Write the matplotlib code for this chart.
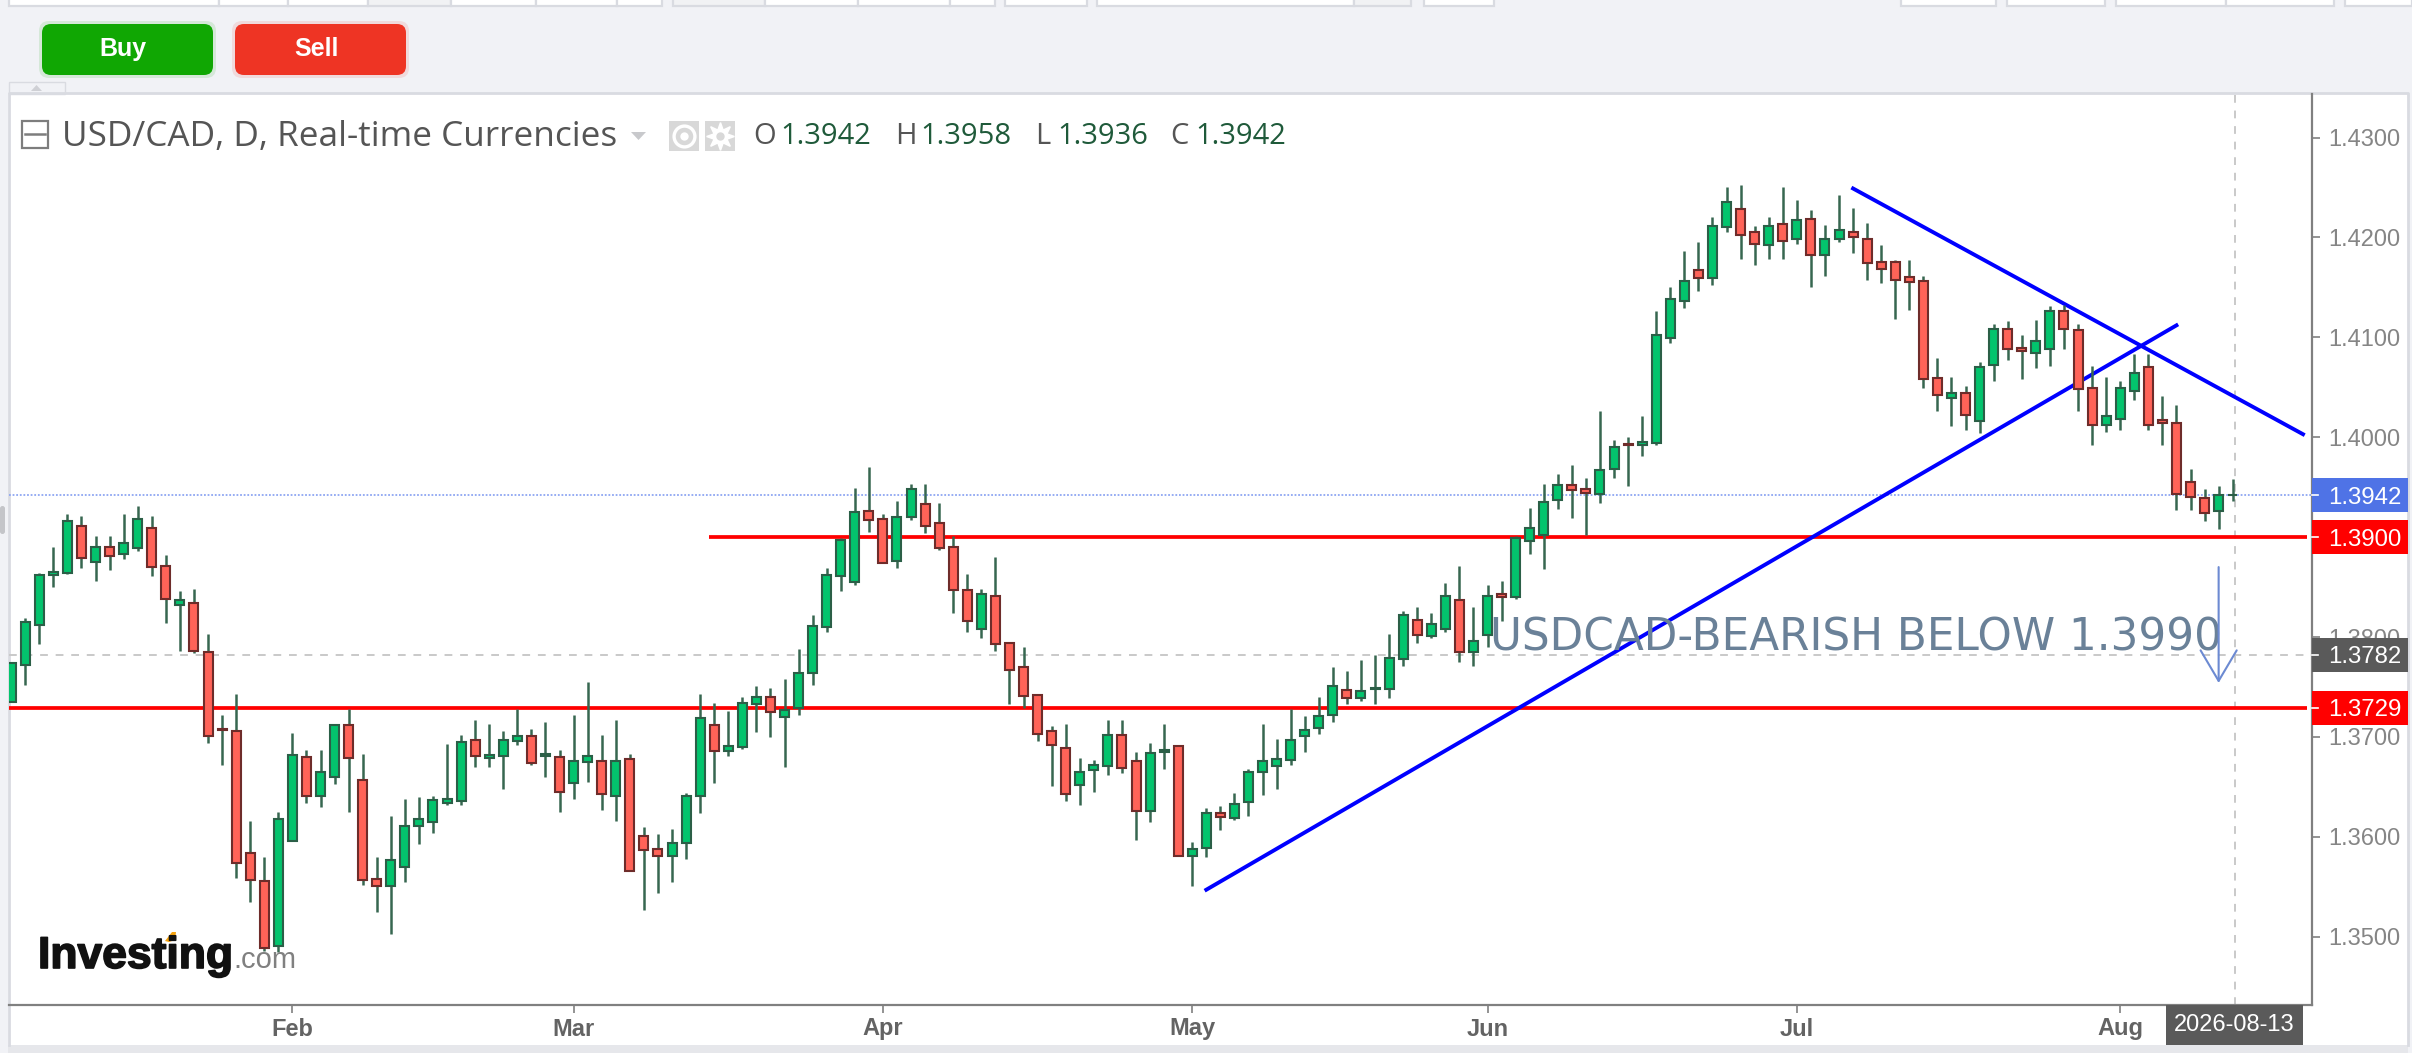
import matplotlib
matplotlib.use("Agg")
from matplotlib import pyplot as plt
from matplotlib import patheffects
from matplotlib.patches import FancyBboxPatch, Polygon, Rectangle
from matplotlib.transforms import blended_transform_factory

opens = [
    1.3735, 1.3772, 1.3812, 1.3862, 1.3864, 1.3911, 1.3875, 1.3890, 1.3883, 1.3889,
    1.3909, 1.3871, 1.3832, 1.3834, 1.3785, 1.3708, 1.3706, 1.3584, 1.3556, 1.3491,
    1.3596, 1.3680, 1.3641, 1.3660, 1.3712, 1.3657, 1.3558, 1.3551, 1.3570, 1.3611,
    1.3615, 1.3634, 1.3636, 1.3697, 1.3679, 1.3681, 1.3696, 1.3701, 1.3681, 1.3680,
    1.3654, 1.3675, 1.3676, 1.3641, 1.3678, 1.3601, 1.3588, 1.3581, 1.3594, 1.3641,
    1.3712, 1.3686, 1.3690, 1.3733, 1.3740, 1.3720, 1.3729, 1.3764, 1.3810, 1.3861,
    1.3855, 1.3926, 1.3918, 1.3876, 1.3920, 1.3933, 1.3914, 1.3890, 1.3847, 1.3808,
    1.3841, 1.3794, 1.3770, 1.3742, 1.3706, 1.3689, 1.3652, 1.3667, 1.3671, 1.3702,
    1.3676, 1.3626, 1.3685, 1.3691, 1.3581, 1.3589, 1.3624, 1.3619, 1.3635, 1.3665,
    1.3671, 1.3677, 1.3701, 1.3709, 1.3722, 1.3747, 1.3739, 1.3748, 1.3748, 1.3778,
    1.3817, 1.3801, 1.3808, 1.3837, 1.3785, 1.3802, 1.3843, 1.3840, 1.3896, 1.3902,
    1.3937, 1.3952, 1.3948, 1.3943, 1.3968, 1.3993, 1.3992, 1.3994, 1.4099, 1.4136,
    1.4167, 1.4159, 1.4210, 1.4228, 1.4205, 1.4192, 1.4213, 1.4198, 1.4218, 1.4182,
    1.4198, 1.4205, 1.4198, 1.4175, 1.4175, 1.4160, 1.4156, 1.4059, 1.4039, 1.4044,
    1.4016, 1.4072, 1.4108, 1.4089, 1.4084, 1.4088, 1.4126, 1.4107, 1.4049, 1.4012,
    1.4018, 1.4046, 1.4070, 1.4017, 1.4014, 1.3955, 1.3939, 1.3926, 1.3942,
]
highs = [
    1.3774, 1.3819, 1.3864, 1.3890, 1.3923, 1.3921, 1.3901, 1.3901, 1.3923, 1.3931,
    1.3921, 1.3882, 1.3846, 1.3848, 1.3803, 1.3722, 1.3743, 1.3616, 1.3580, 1.3625,
    1.3704, 1.3687, 1.3687, 1.3712, 1.3728, 1.3683, 1.3580, 1.3621, 1.3638, 1.3640,
    1.3641, 1.3693, 1.3702, 1.3717, 1.3713, 1.3706, 1.3728, 1.3708, 1.3715, 1.3687,
    1.3722, 1.3755, 1.3702, 1.3717, 1.3683, 1.3610, 1.3603, 1.3608, 1.3644, 1.3743,
    1.3734, 1.3726, 1.3740, 1.3751, 1.3749, 1.3758, 1.3788, 1.3822, 1.3869, 1.3899,
    1.3949, 1.3970, 1.3923, 1.3936, 1.3953, 1.3953, 1.3934, 1.3901, 1.3863, 1.3848,
    1.3880, 1.3794, 1.3790, 1.3742, 1.3711, 1.3713, 1.3679, 1.3677, 1.3717, 1.3717,
    1.3685, 1.3694, 1.3713, 1.3691, 1.3595, 1.3629, 1.3631, 1.3644, 1.3668, 1.3713,
    1.3698, 1.3728, 1.3721, 1.3740, 1.3770, 1.3766, 1.3777, 1.3782, 1.3803, 1.3826,
    1.3830, 1.3824, 1.3854, 1.3871, 1.3830, 1.3852, 1.3856, 1.3901, 1.3929, 1.3953,
    1.3963, 1.3972, 1.3959, 1.4026, 1.3997, 1.4000, 1.4021, 1.4126, 1.4150, 1.4186,
    1.4195, 1.4220, 1.4250, 1.4252, 1.4211, 1.4220, 1.4250, 1.4237, 1.4227, 1.4212,
    1.4242, 1.4229, 1.4214, 1.4192, 1.4177, 1.4177, 1.4161, 1.4079, 1.4060, 1.4051,
    1.4075, 1.4113, 1.4116, 1.4102, 1.4117, 1.4131, 1.4132, 1.4113, 1.4071, 1.4060,
    1.4056, 1.4083, 1.4083, 1.4041, 1.4032, 1.3968, 1.3948, 1.3951, 1.3958,
]
lows = [
    1.3735, 1.3752, 1.3793, 1.3850, 1.3863, 1.3869, 1.3856, 1.3867, 1.3878, 1.3886,
    1.3861, 1.3814, 1.3786, 1.3784, 1.3694, 1.3672, 1.3559, 1.3535, 1.3486, 1.3485,
    1.3596, 1.3634, 1.3630, 1.3653, 1.3625, 1.3552, 1.3525, 1.3503, 1.3555, 1.3593,
    1.3604, 1.3632, 1.3632, 1.3670, 1.3670, 1.3648, 1.3692, 1.3672, 1.3660, 1.3625,
    1.3638, 1.3655, 1.3627, 1.3616, 1.3566, 1.3527, 1.3544, 1.3555, 1.3578, 1.3624,
    1.3654, 1.3681, 1.3688, 1.3705, 1.3700, 1.3670, 1.3722, 1.3752, 1.3805, 1.3846,
    1.3852, 1.3905, 1.3874, 1.3869, 1.3917, 1.3904, 1.3887, 1.3824, 1.3805, 1.3799,
    1.3786, 1.3733, 1.3729, 1.3696, 1.3651, 1.3636, 1.3632, 1.3645, 1.3662, 1.3664,
    1.3597, 1.3615, 1.3668, 1.3581, 1.3551, 1.3580, 1.3607, 1.3617, 1.3621, 1.3642,
    1.3648, 1.3672, 1.3685, 1.3703, 1.3715, 1.3733, 1.3736, 1.3733, 1.3739, 1.3771,
    1.3794, 1.3799, 1.3805, 1.3775, 1.3771, 1.3790, 1.3816, 1.3838, 1.3883, 1.3868,
    1.3928, 1.3919, 1.3902, 1.3934, 1.3959, 1.3951, 1.3981, 1.3992, 1.4094, 1.4129,
    1.4146, 1.4152, 1.4205, 1.4178, 1.4172, 1.4178, 1.4178, 1.4193, 1.4150, 1.4161,
    1.4195, 1.4184, 1.4157, 1.4154, 1.4118, 1.4127, 1.4049, 1.4026, 1.4011, 1.4007,
    1.4004, 1.4056, 1.4077, 1.4058, 1.4069, 1.4071, 1.4088, 1.4026, 1.3992, 1.4005,
    1.4007, 1.4037, 1.4007, 1.3992, 1.3927, 1.3927, 1.3916, 1.3908, 1.3936,
]
closes = [
    1.3774, 1.3815, 1.3862, 1.3865, 1.3916, 1.3879, 1.3890, 1.3881, 1.3894, 1.3918,
    1.3870, 1.3838, 1.3837, 1.3786, 1.3701, 1.3707, 1.3574, 1.3557, 1.3489, 1.3618,
    1.3682, 1.3641, 1.3665, 1.3712, 1.3679, 1.3557, 1.3551, 1.3577, 1.3611, 1.3618,
    1.3637, 1.3638, 1.3695, 1.3681, 1.3682, 1.3697, 1.3701, 1.3674, 1.3683, 1.3645,
    1.3676, 1.3681, 1.3643, 1.3676, 1.3566, 1.3587, 1.3581, 1.3594, 1.3641, 1.3719,
    1.3686, 1.3691, 1.3734, 1.3740, 1.3725, 1.3727, 1.3764, 1.3811, 1.3862, 1.3897,
    1.3925, 1.3917, 1.3874, 1.3920, 1.3948, 1.3911, 1.3889, 1.3847, 1.3816, 1.3843,
    1.3793, 1.3767, 1.3741, 1.3703, 1.3692, 1.3643, 1.3665, 1.3672, 1.3702, 1.3669,
    1.3626, 1.3684, 1.3687, 1.3581, 1.3588, 1.3624, 1.3620, 1.3633, 1.3665, 1.3676,
    1.3678, 1.3697, 1.3707, 1.3721, 1.3751, 1.3739, 1.3746, 1.3749, 1.3779, 1.3822,
    1.3802, 1.3813, 1.3841, 1.3785, 1.3796, 1.3841, 1.3840, 1.3899, 1.3909, 1.3935,
    1.3952, 1.3947, 1.3944, 1.3967, 1.3990, 1.3992, 1.3995, 1.4102, 1.4138, 1.4156,
    1.4159, 1.4211, 1.4235, 1.4202, 1.4193, 1.4211, 1.4196, 1.4217, 1.4182, 1.4198,
    1.4207, 1.4200, 1.4174, 1.4168, 1.4157, 1.4155, 1.4058, 1.4042, 1.4044, 1.4022,
    1.4070, 1.4108, 1.4088, 1.4086, 1.4096, 1.4126, 1.4108, 1.4048, 1.4012, 1.4021,
    1.4049, 1.4064, 1.4012, 1.4014, 1.3943, 1.3940, 1.3924, 1.3942, 1.3942,
]

month_ticks = [20, 40, 62, 84, 105, 127, 150]
month_labels = ["Feb", "Mar", "Apr", "May", "Jun", "Jul", "Aug"]
price_ticks = [1.35, 1.36, 1.37, 1.38, 1.39, 1.40, 1.41, 1.42, 1.43]

support_upper = 1.39
support_lower = 1.3729
last_price = 1.3942
cursor_price = 1.3782
cursor_bar = 158.15
cursor_date = "2026-08-13"
rising_x, rising_y = [85, 154], [1.3547, 1.4112]
falling_x, falling_y = [131, 163], [1.4249, 1.4003]
arrow_bar, arrow_from, arrow_to = 157, 1.3870, 1.3754
note = "USDCAD-BEARISH BELOW 1.3990"
note_bar, note_price = 105.2, 1.3786

GREEN, GREEN_EDGE = "#03c46d", "#2b5f47"
RED, RED_EDGE = "#ff6358", "#6e2c2a"
WICK = "#376750"
PANEL_LINE = "#d9dbe1"
GREY_TEXT = "#858585"
SANS = "Liberation Sans"

W, H = 2412, 1053
fig = plt.figure(figsize=(W / 100, H / 100), dpi=100, facecolor="#f1f2f6")


def pixel_axes(zorder):
    a = fig.add_axes([0, 0, 1, 1], zorder=zorder)
    a.set_xlim(0, W)
    a.set_ylim(H, 0)
    a.axis("off")
    return a


# page chrome behind the chart
back = pixel_axes(0)
back.add_patch(Rectangle((8, 94), 2400, 951, fc="white", ec="none"))
back.add_patch(Rectangle((8, 1045), 2400, 8, fc="#e6e7eb", ec="none"))
back.plot([9, 9, 2408, 2408], [1045, 93, 93, 1045], color=PANEL_LINE, lw=2)
back.add_patch(Rectangle((9, 82), 56, 12, fc="#f1f2f6", ec=PANEL_LINE, lw=1))
back.add_patch(Polygon([[31, 91], [42, 91], [36.5, 85]], fc="#cfd0d5"))
boxes = [(9, 219), (219, 288), (288, 368), (368, 451), (451, 536), (536, 617),
         (617, 662), (673, 765), (765, 858), (858, 950), (950, 995), (1005, 1087),
         (1097, 1354), (1354, 1411), (1424, 1494), (1901, 1996), (2007, 2105),
         (2116, 2226), (2226, 2334), (2345, 2412)]
for x0, x1 in boxes:
    fill = "#f1f2f4" if x0 in (368, 673, 1354) else "white"
    back.add_patch(Rectangle((x0, -3), x1 - x0, 9, fc=fill, ec=PANEL_LINE, lw=1.6))

# price chart
ax = fig.add_axes([9 / W, 1 - 1005 / H, 2303 / W, 911 / H], zorder=1)
ax.patch.set_visible(False)
ax.set_xlim(-0.156, 163.64)
ax.set_ylim(1.34316, 1.43436)

ax.axhline(last_price, color="#8ea6f2", lw=1.3, ls=(0, (1, 1)), zorder=1)
ax.axhline(cursor_price, color="#c9c9c9", lw=1.4, ls=(0, (4, 4)), zorder=1)
ax.axvline(cursor_bar, color="#c9c9c9", lw=1.4, ls=(0, (4, 4)), zorder=1)

ax.plot([-0.156, 163.3], [support_lower, support_lower], color="#ff0000", lw=2.7, zorder=2,
        solid_capstyle="butt")
ax.plot([49.66, 163.3], [support_upper, support_upper], color="#ff0000", lw=2.7, zorder=2,
        solid_capstyle="butt")
ax.plot(rising_x, rising_y, color="#0000ff", lw=2.8, zorder=2)
ax.plot(falling_x, falling_y, color="#0000ff", lw=2.8, zorder=2)

for i, (o, h, l, c) in enumerate(zip(opens, highs, lows, closes)):
    up = c >= o
    ax.vlines(i, l, h, color=WICK, lw=1.8, zorder=3)
    ax.bar(i, abs(c - o), bottom=min(o, c), width=0.64, zorder=4,
           color=GREEN if up else RED, edgecolor=GREEN_EDGE if up else RED_EDGE, linewidth=1.5)

ax.text(note_bar, note_price, note, color="#6a8198", fontsize=31.5, family="DejaVu Sans",
        ha="left", va="baseline", zorder=5)
ax.annotate("", xy=(arrow_bar, arrow_to), xytext=(arrow_bar, arrow_from), zorder=5,
            arrowprops=dict(arrowstyle="->,head_length=1.1,head_width=0.65", color="#6c8ad2",
                            lw=1.5, mutation_scale=20, shrinkA=0, shrinkB=0))

for side in ("top", "left"):
    ax.spines[side].set_visible(False)
for side in ("right", "bottom"):
    ax.spines[side].set_color("#808080")
    ax.spines[side].set_linewidth(1.6)

ax.yaxis.tick_right()
ax.set_yticks(price_ticks)
ax.set_yticklabels([f"{p:.4f}" for p in price_ticks])
ax.tick_params(axis="y", length=6, width=1.2, color="#808080", pad=5.5, labelcolor=GREY_TEXT,
               labelsize=17, labelfontfamily=SANS)
ax.set_xticks(month_ticks + [cursor_bar])
ax.set_xticklabels(month_labels + [""])
ax.tick_params(axis="x", length=6, width=1.2, color="#808080", pad=3, labelcolor="#636363",
               labelsize=17, labelfontfamily=SANS)
for label in ax.get_xticklabels():
    label.set_fontweight("bold")

tags = [(last_price, "#4f73e6"), (support_upper, "#ff0000"), (cursor_price, "#5a5a5a"),
        (support_lower, "#ff0000")]
tag_trans = blended_transform_factory(ax.transAxes, ax.transData)
for price, colour in tags:
    ax.add_patch(Rectangle((1.0, price - 0.00168), 96 / 2303, 0.00336, transform=tag_trans,
                           fc=colour, ec="none", clip_on=False, zorder=6))
    ax.plot([1.0, 1 + 6 / 2303], [price, price], transform=tag_trans, color="white", lw=1.2,
            clip_on=False, zorder=7)
    ax.text(1 + 15.7 / 2303, price, f"{price:.4f}", transform=tag_trans, color="white", fontsize=17.3,
            family=SANS, va="center_baseline", ha="left", clip_on=False, zorder=7)

# header, buttons and logo on top of the chart
top = pixel_axes(2)
for x0, colour, word in [(42, "#10a703", "Buy"), (235, "#ee3424", "Sell")]:
    top.add_patch(FancyBboxPatch((x0 - 3, 21), 177, 57, boxstyle="round,pad=0,rounding_size=10",
                                 fc=colour, ec="none", alpha=0.12))
    top.add_patch(FancyBboxPatch((x0, 24), 171, 51, boxstyle="round,pad=0,rounding_size=9",
                                 fc=colour, ec="none"))
    top.text(x0 + 81, 49, word, color="white", fontsize=18, fontweight="bold", family=SANS,
             ha="center", va="center")

top.add_patch(Rectangle((22, 121), 26, 27, fc="white", ec="#7d7d7d", lw=1.6))
top.plot([25, 45], [134, 134], color="#7d7d7d", lw=1.8)
top.text(62, 137, "USD/CAD, D, Real-time Currencies", color="#555555", fontsize=25.3,
         family="Open Sans", ha="left", va="center")
top.add_patch(Polygon([[631, 132], [646, 132], [638.5, 140]], fc="#c8c9cc"))
top.add_patch(Rectangle((669, 121), 30, 30, fc="#d8d8d8", ec="none"))
top.add_patch(Rectangle((705, 121), 30, 30, fc="#d8d8d8", ec="none"))
top.plot([684], [136], marker="o", ms=15, mfc="none", mec="white", mew=2.4)
top.plot([684], [136], marker="o", ms=6, mfc="white", mec="none")
top.plot([720], [136], marker=(8, 1, 0), ms=20, mfc="white", mec="white")
top.plot([720], [136], marker="o", ms=6, mfc="#d8d8d8", mec="none")

for x_letter, letter, x_value, value in [(753, "O", 780, "1.3942"), (895, "H", 920, "1.3958"),
                                         (1035, "L", 1057, "1.3936"), (1170, "C", 1195, "1.3942")]:
    top.text(x_letter, 137, letter, color="#555555", fontsize=21, family="Open Sans",
             ha="left", va="center")
    top.text(x_value, 137, value, color="#1f5a3a", fontsize=21, family="Open Sans",
             ha="left", va="center")

top.add_patch(Rectangle((2166, 1005), 137, 40, fc="#5a5a5a", ec="none"))
top.text(2234.5, 1025, cursor_date, color="white", fontsize=17, family=SANS, ha="center",
         va="center")

top.text(38, 968, "Investing", color="#111111", fontsize=32, fontweight="bold", family=SANS,
         ha="left", va="baseline",
         path_effects=[patheffects.withStroke(linewidth=1.2, foreground="#111111")])
top.text(233, 968, ".com", color="#808080", fontsize=21, family=SANS, ha="left", va="baseline")
top.add_patch(Polygon([[165, 941], [172, 932], [176, 932], [175, 940], [169, 942]], fc="#f6a30f"))
top.add_patch(FancyBboxPatch((0, 506), 5, 28, boxstyle="round,pad=0,rounding_size=2.5",
                             fc="#c4c5c9", ec="none"))

fig.savefig("out.png", dpi=100)
